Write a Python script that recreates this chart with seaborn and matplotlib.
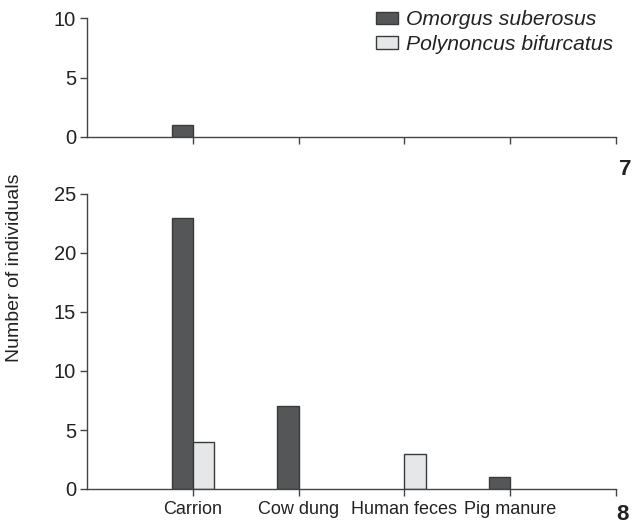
import matplotlib
matplotlib.use("Agg")
import matplotlib.pyplot as plt
import seaborn as sns
import pandas as pd
from matplotlib.patches import Patch

sns.set_style("white")
plt.rcParams['font.family'] = ['Liberation Sans', 'DejaVu Sans']

categories = ["Carrion", "Cow dung", "Human feces", "Pig manure"]
species = ["Omorgus suberosus", "Polynoncus bifurcatus"]
panel7_omorgus = [1, 0, 0, 0]
panel7_polynoncus = [0, 0, 0, 0]
panel8_omorgus = [23, 7, 0, 1]
panel8_polynoncus = [4, 0, 3, 0]
colors = ["#555658", "#e6e7e8"]
edge = "#3a3a3a"


def make_df(om, po):
    rows = []
    for c, a, b in zip(categories, om, po):
        rows.append((c, species[0], a))
        rows.append((c, species[1], b))
    return pd.DataFrame(rows, columns=["cat", "sp", "n"])


fig = plt.figure(figsize=(6.32, 5.27), dpi=100)
W, H = 632, 527
x0, x1 = 87, 616


def ax_rect(top, bottom):
    return [x0 / W, 1 - bottom / H, (x1 - x0) / W, (bottom - top) / H]


ax7 = fig.add_axes(ax_rect(18, 137))
ax8 = fig.add_axes(ax_rect(194, 489))

for ax, (om, po), ymax, yt in [(ax7, (panel7_omorgus, panel7_polynoncus), 10, [0, 5, 10]),
                                (ax8, (panel8_omorgus, panel8_polynoncus), 25, [0, 5, 10, 15, 20, 25])]:
    df = make_df(om, po)
    sns.barplot(data=df, x="cat", y="n", hue="sp", order=categories, hue_order=species,
                palette=colors, width=0.4, ax=ax, edgecolor=edge, linewidth=1.0,
                legend=False, native_scale=False)
    # shift so categories sit at 1..4 with axis 0..5
    for p in ax.patches:
        p.set_x(p.get_x() + 1)
        if p.get_height() == 0:
            p.set_visible(False)
    ax.set_xlim(0, 5)
    ax.set_ylim(0, ymax)
    ax.set_yticks(yt)
    ax.set_xticks([1, 2, 3, 4, 5])
    ax.set_xlabel("")
    ax.set_ylabel("")
    for s in ["top", "right"]:
        ax.spines[s].set_visible(False)
    for s in ["left", "bottom"]:
        ax.spines[s].set_color("#444444")
        ax.spines[s].set_linewidth(1.0)
    ax.tick_params(axis="both", direction="out", length=5, width=1.0, color="#444444",
                   left=True, bottom=True, labelsize=14.5, labelcolor="#222222", pad=3)

ax7.set_xticklabels([])
ax8.set_xticklabels(categories + [""])
ax8.tick_params(axis="x", labelsize=13, pad=4)

handles = [Patch(facecolor=colors[0], edgecolor=edge, label=species[0]),
           Patch(facecolor=colors[1], edgecolor=edge, label=species[1])]
leg = fig.legend(handles=handles, loc="upper right", bbox_to_anchor=(622 / W, 1 - 2 / H),
                 bbox_transform=fig.transFigure, borderaxespad=0.0,
                 frameon=False, prop={"style": "italic", "size": 15.2},
                 handlelength=1.05, handleheight=0.55, handletextpad=0.4, labelspacing=0.25)
for t in leg.get_texts():
    t.set_color("#222222")

fig.text(15 / W, 1 - 268 / H, "Number of individuals", rotation=90, ha="center", va="center",
         fontsize=14, color="#222222")
fig.text(625 / W, 1 - 170 / H, "7", ha="center", va="center", fontsize=16, fontweight="bold",
         color="#222222")
fig.text(622 / W, 1 - 515 / H, "8", ha="center", va="center", fontsize=16, fontweight="bold",
         color="#222222")

fig.savefig("out.png", dpi=100)
